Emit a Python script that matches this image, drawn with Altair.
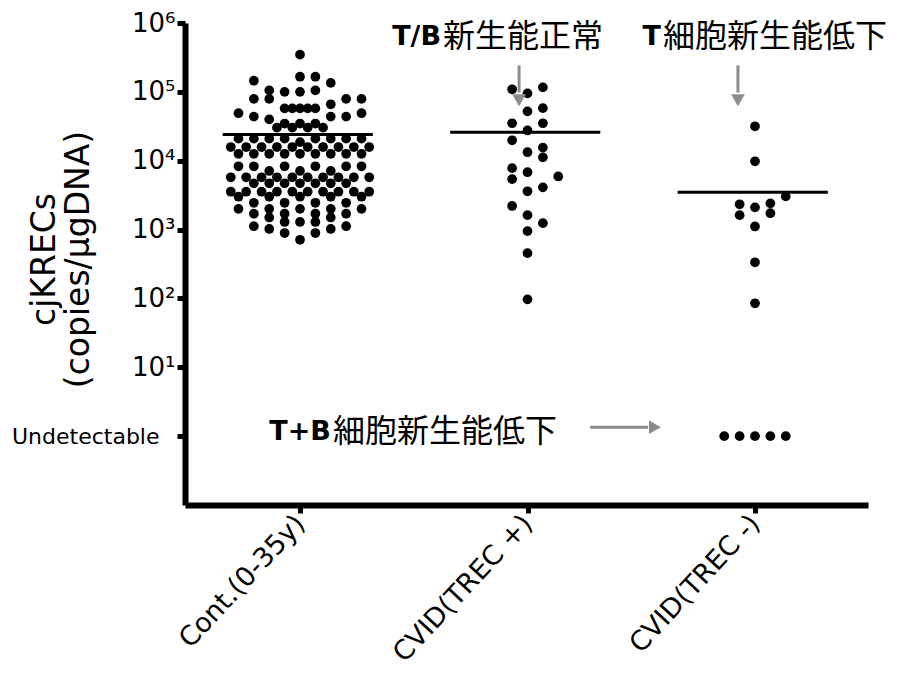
import altair as alt
import pandas as pd

# ---------------- data ----------------
groups = ["Cont.(0-35y)", "CVID(TREC +)", "CVID(TREC -)"]

# control group: (copies/ugDNA, swarm columns in half-dot units)
ctrl_rows = [
    (347000, [0]),
    (166000, [0, 2]),
    (145000, [-6]),
    (135000, [4]),
    (105000, [-4, 2]),
    (100000, [-2, 0]),
    (79000, [-6, -4, 6, 8]),
    (66000, [4]),
    (57500, [-2, -1, 0, 1, 2]),
    (49000, [-8, 8]),
    (43700, [-6, 4, 6]),
    (39800, [-4]),
    (34700, [-2, 0, 2]),
    (30200, [-3, -1, 1, 3]),
    (20900, [-8, -6, -4, -2, 2, 4, 6, 8]),
    (18600, [0]),
    (15800, [-9, -7, -5, -3, -1, 1, 3, 5, 7, 9]),
    (12600, [-8, -6, -4, -2, 0, 2, 4, 6, 8]),
    (8300, [-8, -6, -2, 2, 6, 8]),
    (7100, [-4, 0, 4]),
    (5750, [-9, -7, -5, -3, -1, 1, 3, 5, 7, 9]),
    (4700, [-6, -4, -2, 0, 2, 4, 6]),
    (3550, [-9, -7, -5, -3, -1, 1, 3, 5, 7, 9]),
    (3000, [-8, -4, 0, 4, 8]),
    (2450, [-6, -2, 2, 6]),
    (2000, [-8, -4, 0, 4, 8]),
    (1700, [-6, -2, 2, 6]),
    (1500, [-4, 4]),
    (1290, [-2, 0, 2]),
    (1120, [-6, 6]),
    (1020, [-4, 4]),
    (890, [-2, 2]),
    (710, [0]),
]

trecp_values = [109000, 95000, 116000, 52000, 58000, 35000, 35000, 27500,
                19800, 13300, 15500, 11200, 7800, 6800, 5400, 5900, 3600,
                4100, 2200, 1620, 1240, 950, 455, 97]
trecp_cols = [-2, 0, 2, 0, 2, -2, 2, 0, -2, 0, 2, 2, -2, 0, -2, 4, 0, 2,
              -2, 0, 2, 0, 0, 0]

# value 1 = "Undetectable"
trecn_values = [31600, 9800, 3030, 2330, 2100, 2400, 1620, 1730, 1110, 335, 85,
                1, 1, 1, 1, 1]
trecn_cols = [0, 0, 4, -2, 0, 2, -2, 2, 0, 0, 0, -4, -2, 0, 2, 4]

medians = [24000, 25800, 3470]

y_ticks = [1, 10, 100, 1000, 10000, 100000, 1000000]
y_tick_labels = ["Undetectable", "10\u00b9", "10\u00b2", "10\u00b3",
                 "10\u2074", "10\u2075", "10\u2076"]

ann_latin = ["T/B", "T", "T+B"]
ann_cjk = ["新生能正常", "細胞新生能低下", "細胞新生能低下"]
ann_x = [0.62, 1.587, 0.136]
ann_y = [618000, 618000, 1.14]

# arrows (data coordinates)
varrow_x = [0.963, 1.925]
varrow_y_top = [242700, 242700]
varrow_y_end = [97700, 97700]
varrow_head_y = [75300, 75300]
harrow_y = [1.35]
harrow_x = [1.275]
harrow_x_end = [1.53]
harrow_head_x = [1.56]

# ---------------- tables ----------------
rows = []
for v, cols in ctrl_rows:
    for c in cols:
        rows.append({"grp": 0, "value": v, "col": c})
for v, c in zip(trecp_values, trecp_cols):
    rows.append({"grp": 1, "value": v, "col": c})
for v, c in zip(trecn_values, trecn_cols):
    rows.append({"grp": 2, "value": v, "col": c})
dots = pd.DataFrame(rows)

med_df = pd.DataFrame({"grp": [0, 1, 2], "value": medians})
ann_df = pd.DataFrame({"x": ann_x, "y": ann_y, "latin": ann_latin, "cjk": ann_cjk})
va_df = pd.DataFrame({"x": varrow_x, "y": varrow_y_top, "y2": varrow_y_end, "hy": varrow_head_y})
ha_df = pd.DataFrame({"y": harrow_y, "x": harrow_x, "x2": harrow_x_end, "hx": harrow_head_x})

xscale = alt.Scale(domain=[-0.5055, 2.4967], nice=False, zero=False)
yscale = alt.Scale(type="log", domain=[0.1, 1000000], nice=False)

label_expr_y = "".join(
    f"datum.value == {v} ? '{l}' : " for v, l in zip(y_ticks, y_tick_labels)
) + "''"
label_expr_x = "".join(
    f"datum.value == {i} ? '{g}' : " for i, g in enumerate(groups)
) + "''"

xaxis = alt.Axis(
    values=[0, 1, 2], labelExpr=label_expr_x, title=None, grid=False,
    domainColor="black", domainWidth=6, tickColor="black", tickWidth=5, tickSize=8,
    labelAngle=-47, labelAlign="right", labelBaseline="middle", labelPadding=6,
    labelFont="DejaVu Sans", labelFontSize=27, labelColor="black", labelLimit=0,
)
yaxis = alt.Axis(
    values=y_ticks, labelExpr=label_expr_y, grid=False,
    title=["cjKRECs", "(copies/\u03bcgDNA)"],
    titleFont="DejaVu Sans", titleFontSize=33, titleFontWeight="normal",
    titleAngle=-90, titleX=-141, titleY=236, titleAlign="center",
    titleBaseline="middle", titleLineHeight=34, titleColor="black",
    domainColor="black", domainWidth=6, tickColor="black", tickWidth=5, tickSize=8,
    labelFont="DejaVu Sans",
    labelFontSize={"condition": {"test": "datum.value == 1", "value": 22}, "value": 26},
    labelPadding={"condition": {"test": "datum.value == 1", "value": 18}, "value": 2},
    labelColor="black", labelLimit=0,
)


def X(field):
    return alt.X(field, scale=xscale, axis=xaxis)


def Y(field):
    return alt.Y(field, scale=yscale, axis=yaxis)


dot_layer = alt.Chart(dots).transform_calculate(
    xpos="datum.grp + datum.col * 0.0338"
).mark_circle(size=95, color="black", opacity=1).encode(
    x=X("xpos:Q"),
    y=Y("value:Q"),
)

med_layer = alt.Chart(med_df).transform_calculate(
    x1="datum.grp - 0.34", x2="datum.grp + 0.32"
).mark_rule(color="black", strokeWidth=3).encode(
    x=X("x1:Q"),
    x2="x2:Q",
    y=Y("value:Q"),
)

latin_layer = alt.Chart(ann_df).mark_text(
    font="DejaVu Sans", fontWeight="bold", fontSize=27, align="right",
    baseline="middle", color="black",
).encode(
    x=X("x:Q"),
    y=Y("y:Q"),
    text="latin:N",
)

cjk_layer = alt.Chart(ann_df).mark_text(
    font="Noto Sans CJK JP", fontWeight="normal", fontSize=32, align="left",
    baseline="middle", color="black", dx=2,
).encode(
    x=X("x:Q"),
    y=Y("y:Q"),
    text="cjk:N",
)

gray = "#8c8c8c"
va_rule = alt.Chart(va_df).mark_rule(color=gray, strokeWidth=3).encode(
    x=X("x:Q"),
    y=Y("y:Q"),
    y2="y2:Q",
)
va_head = alt.Chart(va_df).mark_point(
    shape="triangle-down", filled=True, size=190, color=gray, opacity=1
).encode(
    x=X("x:Q"),
    y=Y("hy:Q"),
)
ha_rule = alt.Chart(ha_df).mark_rule(color=gray, strokeWidth=3).encode(
    x=X("x:Q"),
    x2="x2:Q",
    y=Y("y:Q"),
)
ha_head = alt.Chart(ha_df).mark_point(
    shape="triangle-right", filled=True, size=190, color=gray, opacity=1
).encode(
    x=X("hx:Q"),
    y=Y("y:Q"),
)

chart = alt.layer(
    dot_layer, med_layer, latin_layer, cjk_layer, va_rule, va_head, ha_rule, ha_head
).properties(
    width=683, height=482,
    padding={"left": 185, "top": 23, "right": 34, "bottom": 170},
    autosize=alt.AutoSizeParams(type="none"),
    background="white",
).configure_view(stroke=None)

chart.save("out.html", embed_options={"renderer": "svg", "actions": False})
